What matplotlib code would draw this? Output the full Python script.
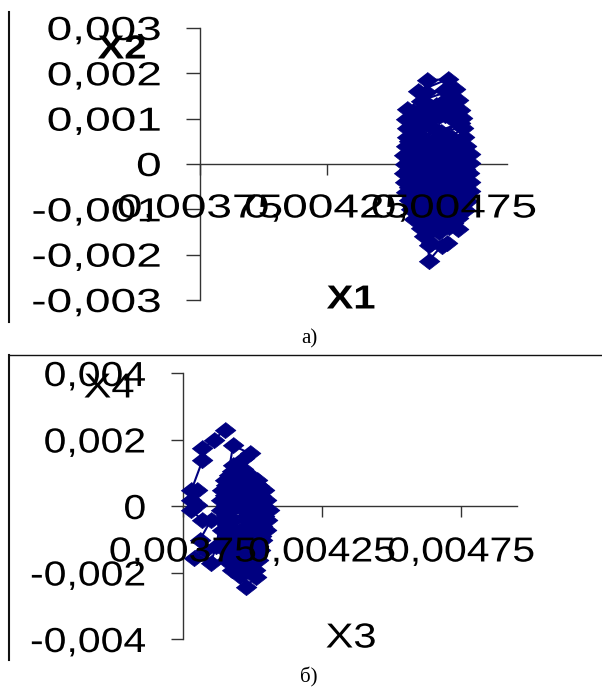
import matplotlib
matplotlib.use('Agg')
import matplotlib.pyplot as plt
from matplotlib.lines import Line2D
from matplotlib.patheffects import AbstractPathEffect
from matplotlib.transforms import Affine2D

W, H = 602, 689
NAVY = '#000080'

# значения
x1 = [0.004644, 0.004725,
      0.004608, 0.004640, 0.004710, 0.004755,
      0.004620, 0.004700, 0.004735, 0.004768,
      0.004565, 0.004590, 0.004660, 0.004735, 0.004775,
      0.004562, 0.004640, 0.004690, 0.004755, 0.004782,
      0.004565, 0.004600, 0.004660, 0.004740, 0.004786,
      0.004566, 0.004620, 0.004680, 0.004735, 0.004790,
      0.004562, 0.004590, 0.004640, 0.004690, 0.004760, 0.004798,
      0.004555, 0.004600, 0.004650, 0.004710, 0.004770, 0.004812,
      0.004556, 0.004585, 0.004630, 0.004685, 0.004745, 0.004812,
      0.004555, 0.004600, 0.004650, 0.004710, 0.004770, 0.004810,
      0.004558, 0.004590, 0.004640, 0.004690, 0.004760, 0.004812,
      0.004562, 0.004610, 0.004660, 0.004720, 0.004780, 0.004812,
      0.004572, 0.004620, 0.004680, 0.004730, 0.004802,
      0.004580, 0.004630, 0.004690, 0.004750, 0.004792,
      0.004594, 0.004650, 0.004710, 0.004765,
      0.004622, 0.004670, 0.004730, 0.004766,
      0.004634, 0.004660, 0.004722,
      0.004650, 0.004702,
      0.004652,
      0.004620, 0.004665, 0.004715, 0.004760,
      0.004590, 0.004640, 0.004700, 0.004775,
      0.004575, 0.004625, 0.004670, 0.004715, 0.004770,
      0.004580, 0.004630, 0.004675, 0.004725, 0.004785,
      0.004575, 0.004620, 0.004670, 0.004730, 0.004790,
      0.004575, 0.004625, 0.004675, 0.004735, 0.004795,
      0.004580, 0.004620, 0.004670, 0.004725, 0.004790,
      0.004575, 0.004625, 0.004680, 0.004740, 0.004795,
      0.004590, 0.004640, 0.004695, 0.004750, 0.004790,
      0.004600, 0.004650, 0.004700, 0.004760, 0.004780,
      0.004610, 0.004660, 0.004720, 0.004755,
      0.004630, 0.004680, 0.004745, 0.004650, 0.004690, 0.004640, 0.004680]
x2 = [0.00185, 0.00187,
      0.00160, 0.00158, 0.00163, 0.00165,
      0.00140, 0.00135, 0.00145, 0.00142,
      0.00122, 0.00118, 0.00125, 0.00128, 0.00120,
      0.00100, 0.00098, 0.00105, 0.00095, 0.00102,
      0.00080, 0.00078, 0.00083, 0.00060, 0.00080,
      0.00060, 0.00062, 0.00058, 0.00035, 0.00060,
      0.00040, 0.00042, 0.00038, 0.00040, 0.00036, 0.00040,
      0.00020, 0.00022, 0.00018, 0.00020, 0.00024, 0.00022,
      0.00000, 0.00002, -0.00002, 0.00000, 0.00004, 0.00002,
      -0.00020, -0.00018, -0.00022, -0.00020, -0.00018, -0.00020,
      -0.00040, -0.00042, -0.00038, -0.00040, -0.00042, -0.00040,
      -0.00062, -0.00060, -0.00064, -0.00060, -0.00062, -0.00060,
      -0.00080, -0.00082, -0.00078, -0.00080, -0.00082,
      -0.00100, -0.00102, -0.00098, -0.00100, -0.00102,
      -0.00122, -0.00120, -0.00124, -0.00120,
      -0.00142, -0.00138, -0.00140, -0.00144,
      -0.00158, -0.00175, -0.00175,
      -0.00178, -0.00180,
      -0.00213,
      0.00110, 0.00112, 0.00108, 0.00110,
      0.00090, 0.00088, 0.00070, 0.00090,
      0.00050, 0.00052, 0.00048, 0.00050, 0.00050,
      0.00030, 0.00032, 0.00028, 0.00010, 0.00030,
      0.00010, 0.00012, 0.00008, 0.00010, 0.00010,
      -0.00010, -0.00008, -0.00012, -0.00010, -0.00010,
      -0.00030, -0.00028, -0.00032, -0.00030, -0.00030,
      -0.00050, -0.00052, -0.00048, -0.00050, -0.00050,
      -0.00070, -0.00072, -0.00068, -0.00070, -0.00070,
      -0.00090, -0.00092, -0.00088, -0.00090, -0.00090,
      -0.00110, -0.00112, -0.00108, -0.00110,
      -0.00130, -0.00130, -0.00130, -0.00150, -0.00150, 0.00135, 0.00130]

x3 = [0.003900, 0.003860, 0.003820, 0.003820,
      0.003780, 0.003800, 0.003780, 0.003800, 0.003780, 0.003820, 0.003850,
      0.003810, 0.003830, 0.003790, 0.003850, 0.003870,
      0.003930, 0.003990, 0.003970, 0.003930, 0.003925, 0.003965,
      0.003900, 0.003940, 0.003980, 0.004015,
      0.003890, 0.003925, 0.003965, 0.004005, 0.004040,
      0.003887, 0.003925, 0.003965, 0.004010, 0.004050,
      0.003887, 0.003920, 0.003975, 0.004015, 0.004058,
      0.003890, 0.003925, 0.003985, 0.004020, 0.004052,
      0.003890, 0.003930, 0.003990, 0.004030, 0.004048,
      0.003897, 0.003935, 0.003985, 0.004035,
      0.003900, 0.003945, 0.003985, 0.004027,
      0.003905, 0.003950, 0.003990, 0.004020,
      0.003925, 0.003970, 0.004010,
      0.003955, 0.004012,
      0.003975,
      0.003915, 0.003955, 0.003995,
      0.003905, 0.003945, 0.003985, 0.004025,
      0.003900, 0.003945, 0.003990, 0.004030,
      0.003905, 0.003950, 0.003995, 0.004035,
      0.003905, 0.003975, 0.004005, 0.004040,
      0.003910, 0.003975, 0.004010, 0.004035,
      0.003915, 0.003965, 0.004010, 0.004030,
      0.003920, 0.003965, 0.004005, 0.004020,
      0.003930, 0.003970, 0.004005]
x4 = [0.00230, 0.00197, 0.00173, 0.00137,
      0.00047, 0.00047, 0.00017, 0.00002, -0.00013, -0.00043, -0.00043,
      -0.00103, -0.00133, -0.00157, -0.00170, -0.00120,
      0.00182, 0.00158, 0.00143, 0.00122, 0.00105, 0.00110,
      0.00077, 0.00080, 0.00075, 0.00078,
      0.00047, 0.00045, 0.00048, 0.00045, 0.00047,
      0.00017, 0.00015, 0.00018, 0.00016, 0.00017,
      -0.00013, -0.00015, -0.00012, -0.00015, -0.00013,
      -0.00043, -0.00045, -0.00042, -0.00045, -0.00043,
      -0.00073, -0.00075, -0.00072, -0.00075, -0.00073,
      -0.00103, -0.00105, -0.00102, -0.00103,
      -0.00133, -0.00135, -0.00132, -0.00133,
      -0.00163, -0.00165, -0.00162, -0.00163,
      -0.00193, -0.00195, -0.00193,
      -0.00210, -0.00214,
      -0.00244,
      0.00092, 0.00095, 0.00090,
      0.00062, 0.00060, 0.00064, 0.00060,
      0.00032, 0.00030, 0.00033, 0.00030,
      0.00002, 0.00000, 0.00002, 0.00000,
      -0.00028, -0.00030, -0.00028, -0.00030,
      -0.00058, -0.00060, -0.00058, -0.00060,
      -0.00088, -0.00090, -0.00088, -0.00090,
      -0.00118, -0.00120, -0.00118, -0.00120,
      -0.00148, -0.00150, -0.00148]

yticks_a = [-0.003, -0.002, -0.001, 0, 0.001, 0.002, 0.003]
ylabels_a = ['-0,003', '-0,002', '-0,001', '0', '0,001', '0,002', '0,003']
yticks_b = [-0.004, -0.002, 0, 0.002, 0.004]
ylabels_b = ['-0,004', '-0,002', '0', '0,002', '0,004']
xticks = [0.00375, 0.00425, 0.00475]
xlabels = ['0,00375', '0,00425', '0,00475']


class Stretch(AbstractPathEffect):
    # растягивает текст по горизонтали, как на исходном рисунке
    def __init__(self, sx, anchor=0.5):
        super().__init__()
        self.sx = sx
        self.anchor = anchor

    def draw_path(self, renderer, gc, tpath, affine, rgbFace=None):
        box = affine.transform_path(tpath).get_extents()
        cx = box.x0 + self.anchor * box.width
        t = affine + Affine2D().translate(-cx, 0).scale(self.sx, 1).translate(cx, 0)
        renderer.draw_path(gc, tpath, t, rgbFace)


def make_axes(fig, left, right, top, bottom):
    return fig.add_axes([left / W, 1 - bottom / H, (right - left) / W, (bottom - top) / H])


def draw_panel(fig, box, xs, ys, yticks, ylabels, xlim, font, sx, ticklen, pad, xlab_dy,
               xname, xname_pos, yname, yname_pos, weight):
    ax = make_axes(fig, *box)
    ax.patch.set_visible(False)
    ax.set_xlim(*xlim)
    ax.set_ylim(yticks[0], yticks[-1])
    ax.spines['top'].set_visible(False)
    ax.spines['right'].set_visible(False)
    ax.spines['bottom'].set_position(('data', 0))
    ax.spines['bottom'].set_color('#333333')
    ax.spines['left'].set_color('#333333')
    ax.set_axisbelow(True)
    for s in ax.spines.values():
        s.set_zorder(1)
        s.set_linewidth(1.0)

    ax.set_yticks(yticks)
    ax.set_yticklabels(ylabels)
    ax.tick_params(axis='y', length=ticklen, width=1.0, pad=pad, labelsize=font, color='#333333')
    for t in ax.get_yticklabels():
        t.set_path_effects([Stretch(sx, 1.0)])
    ax.set_xticks(xticks)
    ax.set_xticklabels([])
    ax.tick_params(axis='x', length=8, width=1.0, color='#333333')

    ax.plot(xs, ys, color=NAVY, lw=1.5, marker=[(-1, 0), (0, -0.78), (1, 0), (0, 0.78)],
            ms=15, mfc=NAVY, mec=NAVY, mew=0.5, zorder=2, clip_on=False)

    # подписи оси X лежат поверх облака точек
    for tick, lab in zip(xticks, xlabels):
        a = ax.annotate(lab, (tick, 0), xytext=(0, -xlab_dy), textcoords='offset pixels',
                        ha='center', va='center', fontsize=font, zorder=6, annotation_clip=False)
        a.set_path_effects([Stretch(sx)])

    for name, pos in ((xname, xname_pos), (yname, yname_pos)):
        t = fig.text(pos[0] / W, 1 - pos[1] / H, name, ha='center', va='center',
                     fontsize=font, fontweight=weight, zorder=7)
        t.set_path_effects([Stretch(1.2)])
    return ax


plt.rcParams['font.family'] = ['Liberation Sans', 'DejaVu Sans']
fig = plt.figure(figsize=(W / 100, H / 100), dpi=100)

draw_panel(fig, (200, 507, 28, 300), x1, x2, yticks_a, ylabels_a, (0.00375, 0.004959),
           24, 1.38, 10, 18, 45, 'X1', (351, 300), 'X2', (122, 50), 'bold')
draw_panel(fig, (183, 517, 373, 639), x3, x4, yticks_b, ylabels_b, (0.00375, 0.004951),
           25, 1.18, 8.6, 18, 46, 'X3', (351, 638), 'X4', (109, 388), 'normal')

# рамки вокруг рисунков
fig.add_artist(Line2D([9 / W, 9 / W], [1 - 12 / H, 1 - 322 / H], color='#111111', lw=1.5))
fig.add_artist(Line2D([9 / W, 9 / W], [1 - 355 / H, 1 - 660 / H], color='#111111', lw=1.5))
fig.add_artist(Line2D([9 / W, 1], [1 - 355 / H, 1 - 355 / H], color='#111111', lw=1.0))

fig.text(309 / W, 1 - 339 / H, 'а)', family='Liberation Serif', fontsize=15, ha='center', va='center')
fig.text(309 / W, 1 - 677 / H, 'б)', family='Liberation Serif', fontsize=15, ha='center', va='center')

fig.savefig('out.png', dpi=100)
